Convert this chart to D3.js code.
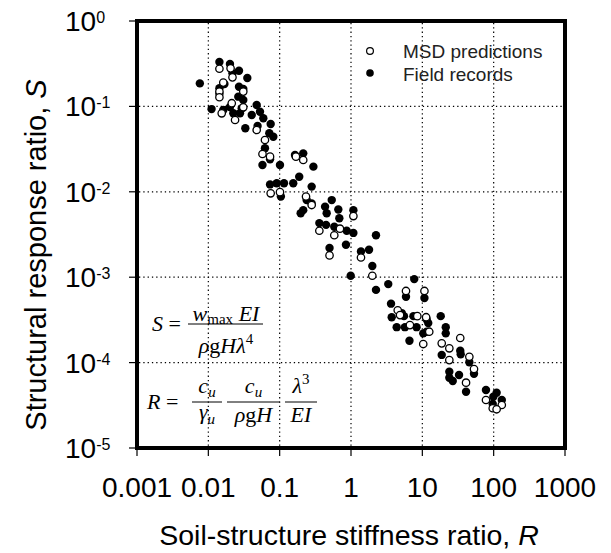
<!DOCTYPE html>
<html>
<head>
<meta charset="utf-8">
<script src="https://cdn.jsdelivr.net/npm/d3@7"></script>
</head>
<body style="margin:0">
<div id="chart"></div>
<script>
// values
const fieldR = [0.0076, 0.0111, 0.0143, 0.0201, 0.0218, 0.0269, 0.0352, 0.0168, 0.0143, 0.0143,
  0.0269, 0.0309, 0.0263, 0.0309, 0.0162, 0.0201, 0.0224, 0.0294, 0.0278, 0.033,
  0.0406, 0.0476, 0.053, 0.059, 0.049, 0.0748, 0.0716, 0.0815, 0.0622, 0.0574,
  0.0733, 0.101, 0.164, 0.214, 0.188, 0.155, 0.0733, 0.091, 0.104, 0.115,
  0.197, 0.214, 0.239, 0.297, 0.281, 0.433, 0.537, 0.664, 1.08, 0.281,
  0.456, 0.686, 0.36, 0.447, 0.583, 0.87, 1.08, 2.24, 0.50, 0.85,
  1.38, 1.79, 1.99, 0.99, 2.24, 3.33, 7.7, 5.9, 10.7, 3.64,
  3.72, 5.14, 5.53, 4.37, 5.7, 7.5, 8.3, 6.6, 11.5, 12.1,
  10.3, 11.5, 18.1, 21.3, 21.3, 18.7, 34, 34.5, 45.6, 53,
  23.9, 23.9, 26.7, 32.7, 41, 78, 110, 99, 130, 97];
const fieldS = [0.186, 0.093, 0.331, 0.314, 0.244, 0.262, 0.215, 0.183, 0.163, 0.140,
  0.170, 0.160, 0.130, 0.119, 0.0907, 0.0984, 0.083, 0.095, 0.083, 0.0554,
  0.0793, 0.104, 0.0867, 0.0726, 0.059, 0.0622, 0.0484, 0.0442, 0.0323, 0.0206,
  0.024, 0.0206, 0.027, 0.0282, 0.0150, 0.0126, 0.0122, 0.0126, 0.0088, 0.0126,
  0.0056, 0.0061, 0.0080, 0.0197, 0.0115, 0.0067, 0.0080, 0.0062, 0.0061, 0.0073,
  0.0056, 0.0049, 0.0043, 0.0041, 0.0039, 0.0035, 0.0033, 0.0031, 0.0022, 0.0024,
  0.0020, 0.0021, 0.00135, 0.00104, 0.00071, 0.00083, 0.00095, 0.00059, 0.00057, 0.00049,
  0.00034, 0.00038, 0.00035, 0.00026, 0.00026, 0.00035, 0.00026, 0.00018, 0.00032, 0.00029,
  0.00022, 0.00023, 0.00035, 0.00026, 0.00022, 0.000123, 0.000138, 0.000125, 0.000101, 0.000074,
  0.000078, 0.0000665, 0.000061, 0.0000716, 0.0000456, 0.0000478, 0.0000444, 0.0000399, 0.0000365, 0.0000327];

const msdR = [0.0143, 0.0205, 0.0218, 0.0143, 0.0143, 0.0162, 0.0309, 0.0154, 0.0213, 0.0237,
  0.0309, 0.0476, 0.0622, 0.0574, 0.0733, 0.169, 0.214, 0.101, 0.0748, 0.234,
  0.281, 1.08, 0.36, 0.583, 0.70, 0.50, 1.38, 1.99, 5.9, 10.7,
  4.52, 4.87, 6.7, 8.5, 11.3, 12.5, 10.3, 18.7, 23.9, 23.9,
  34, 45.6, 53, 41, 78, 130, 97, 110];
const msdS = [0.276, 0.279, 0.219, 0.149, 0.128, 0.19, 0.149, 0.083, 0.109, 0.0693,
  0.0976, 0.0529, 0.0404, 0.0277, 0.0258, 0.0258, 0.0236, 0.0099, 0.0096, 0.0088,
  0.0070, 0.0052, 0.0035, 0.0031, 0.0037, 0.0018, 0.0017, 0.00104, 0.00069, 0.00069,
  0.00041, 0.00036, 0.000275, 0.00035, 0.00034, 0.00023, 0.000165, 0.000168, 0.000147, 0.000107,
  0.000194, 0.000117, 0.000084, 0.0000582, 0.0000365, 0.0000319, 0.0000292, 0.0000284];

const xTicks = [0.001, 0.01, 0.1, 1, 10, 100, 1000];
const xTickLabels = ["0.001", "0.01", "0.1", "1", "10", "100", "1000"];
const yTicks = [1, 0.1, 0.01, 0.001, 0.0001, 0.00001];
const yExponents = ["0", "-1", "-2", "-3", "-4", "-5"];
const seriesNames = ["MSD predictions", "Field records"];

const sans = "Liberation Sans, Arial, sans-serif";
const serif = "Liberation Serif, Times New Roman, serif";

const svg = d3.select("#chart").append("svg").attr("width", 611).attr("height", 553);

// plot box (same numbers as the reference's frame)
const box = { l: 137, r: 565, t: 21, b: 448 };
svg.append("rect").attr("x", box.l).attr("y", box.t)
  .attr("width", box.r - box.l).attr("height", box.b - box.t)
  .attr("fill", "#fff").attr("stroke", "#000").attr("stroke-width", 4);

const x = d3.scaleLog().domain([0.001, 1000]).range([box.l, box.r]);
const y = d3.scaleLog().domain([0.00001, 1]).range([box.b, box.t]);

// dotted grid at inner decades
xTicks.slice(1, -1).forEach(d => {
  svg.append("line").attr("x1", x(d)).attr("x2", x(d)).attr("y1", box.t + 2).attr("y2", box.b - 2)
    .attr("stroke", "#000").attr("stroke-width", 1.2).attr("stroke-dasharray", "1.3,3");
});
yTicks.slice(1, -1).forEach(d => {
  svg.append("line").attr("x1", box.l + 2).attr("x2", box.r - 2).attr("y1", y(d)).attr("y2", y(d))
    .attr("stroke", "#000").attr("stroke-width", 1.2).attr("stroke-dasharray", "1.3,3");
});

// tick marks
xTicks.forEach(d => {
  svg.append("line").attr("x1", x(d)).attr("x2", x(d)).attr("y1", box.b).attr("y2", box.b + 8)
    .attr("stroke", "#000").attr("stroke-width", 1.2);
});
yTicks.forEach(d => {
  svg.append("line").attr("x1", box.l - 8).attr("x2", box.l).attr("y1", y(d)).attr("y2", y(d))
    .attr("stroke", "#000").attr("stroke-width", 1.2);
});

// tick labels
xTicks.forEach((d, i) => {
  svg.append("text").attr("x", x(d)).attr("y", 497).attr("text-anchor", "middle")
    .attr("font-family", sans).attr("font-size", 28).text(xTickLabels[i]);
});
yTicks.forEach((d, i) => {
  const t = svg.append("text").attr("x", 65).attr("y", y(d) + 10)
    .attr("font-family", sans).attr("font-size", 28);
  t.append("tspan").text("10");
  t.append("tspan").attr("dy", -8).attr("font-size", 16).text(yExponents[i]);
});

// points: field records, then MSD predictions on top
fieldR.forEach((r, i) => {
  svg.append("circle").attr("cx", x(r)).attr("cy", y(fieldS[i])).attr("r", 4.2).attr("fill", "#000");
});
msdR.forEach((r, i) => {
  svg.append("circle").attr("cx", x(r)).attr("cy", y(msdS[i])).attr("r", 3.7)
    .attr("fill", "#fff").attr("stroke", "#000").attr("stroke-width", 1.3);
});

// frame again on top of the points
svg.append("rect").attr("x", box.l).attr("y", box.t)
  .attr("width", box.r - box.l).attr("height", box.b - box.t)
  .attr("fill", "none").attr("stroke", "#000").attr("stroke-width", 4);

// legend
svg.append("circle").attr("cx", 370).attr("cy", 51).attr("r", 3.4)
  .attr("fill", "#fff").attr("stroke", "#000").attr("stroke-width", 1.2);
svg.append("circle").attr("cx", 370).attr("cy", 73).attr("r", 3.8).attr("fill", "#000");
seriesNames.forEach((s, i) => {
  svg.append("text").attr("x", 403).attr("y", 58 + i * 22.5)
    .attr("font-family", sans).attr("font-size", 19).attr("fill", "#222").text(s);
});

// axis titles
const xt = svg.append("text").attr("x", 349).attr("y", 545).attr("text-anchor", "middle")
  .attr("font-family", sans).attr("font-size", 28.5).text("Soil-structure stiffness ratio, ");
xt.append("tspan").attr("font-style", "italic").text("R");
const yt = svg.append("text").attr("transform", "translate(46,255) rotate(-90)")
  .attr("text-anchor", "middle").attr("font-family", sans).attr("font-size", 29)
  .text("Structural response ratio, ");
yt.append("tspan").attr("font-style", "italic").text("S");

// formulas
const sub = 15;
function mtext(px, py, anchor) {
  return svg.append("text").attr("x", px).attr("y", py).attr("text-anchor", anchor || "start")
    .attr("font-family", serif).attr("font-size", 22);
}
function it(t, s) { return t.append("tspan").attr("font-style", "italic").text(s); }
function up(t, s) { return t.append("tspan").text(s); }
function bar(x1, x2, ly) {
  svg.append("line").attr("x1", x1).attr("x2", x2).attr("y1", ly).attr("y2", ly)
    .attr("stroke", "#000").attr("stroke-width", 1);
}

// S = w_max EI / (rho g H lambda^4)
const sT = mtext(152, 330.5); it(sT, "S"); up(sT, " =");
bar(188, 263, 324);
const sN = mtext(226, 320.5, "middle");
it(sN, "w"); sN.append("tspan").attr("dy", 3).attr("font-size", sub).text("max");
it(sN, " EI").attr("dy", -3);
const sD = mtext(226, 353, "middle");
it(sD, "ρ"); up(sD, "g"); it(sD, "Hλ");
sD.append("tspan").attr("dy", -9).attr("font-size", sub).text("4");

// R = c_u/gamma_u * c_u/(rho g H) * lambda^3/EI
const rT = mtext(147, 409); it(rT, "R"); up(rT, " =");
function cu(cx) {
  const t = mtext(cx, 393, "middle");
  it(t, "c"); it(t, "u").attr("dy", 4).attr("font-size", sub);
}
bar(192, 222, 402); cu(207);
const g1 = mtext(207, 419, "middle"); it(g1, "γ"); it(g1, "u").attr("dy", 5).attr("font-size", sub);
bar(227, 280, 402); cu(253.5);
const g2 = mtext(253.5, 422, "middle"); it(g2, "ρ"); up(g2, "g"); it(g2, "H");
bar(285, 317, 402);
const l3 = mtext(301, 393, "middle"); it(l3, "λ");
l3.append("tspan").attr("dy", -9).attr("font-size", sub).text("3");
const e3 = mtext(301, 422, "middle"); it(e3, "EI");
</script>
</body>
</html>
